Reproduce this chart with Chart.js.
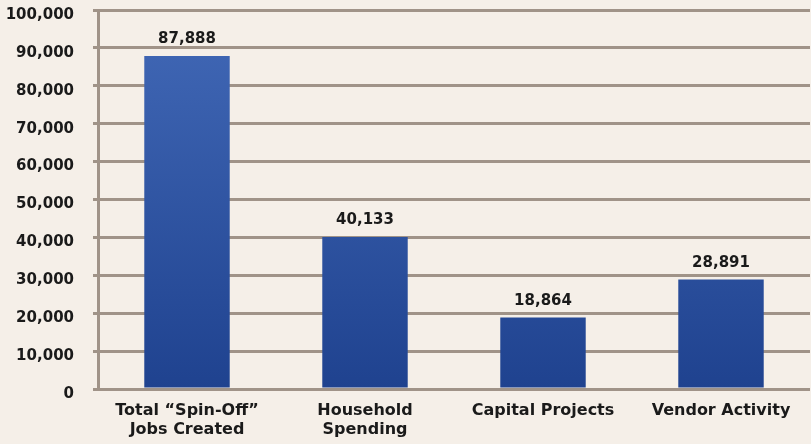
<!DOCTYPE html>
<html>
<head>
<meta charset="utf-8">
<script src="https://cdn.jsdelivr.net/npm/chart.js@4.4.1/dist/chart.umd.min.js"></script>
<style>
  html, body { margin: 0; padding: 0; background: #f5efe8; }
  #wrap { width: 811px; height: 444px; }
</style>
</head>
<body>
<div id="wrap"><canvas id="jobs-chart" width="811" height="444"></canvas></div>
<script>
// data
const categories = [['Total \u201CSpin-Off\u201D', 'Jobs Created'], ['Household', 'Spending'], 'Capital Projects', 'Vendor Activity'];
const jobs = [87888, 40133, 18864, 28891];
const yTicks = [0, 10000, 20000, 30000, 40000, 50000, 60000, 70000, 80000, 90000, 100000];

const fontFam = '"DejaVu Sans", "Liberation Sans", Arial, sans-serif';
const gridColor = '#a09388';

// background + value labels above bars
const extras = {
    id: 'extras',
    beforeDraw(chart) {
        const c = chart.ctx;
        c.save();
        c.fillStyle = '#f5efe8';
        c.fillRect(0, 0, chart.width, chart.height);
        c.restore();
    },
    afterDatasetsDraw(chart) {
        const c = chart.ctx;
        const meta = chart.getDatasetMeta(0);
        c.save();
        c.font = 'bold 15px ' + fontFam;
        c.fillStyle = '#1a1a1a';
        c.textAlign = 'center';
        c.textBaseline = 'bottom';
        meta.data.forEach(function (bar, i) {
            c.fillText(jobs[i].toLocaleString('en-US'), bar.x, bar.y - 9);
        });
        c.restore();
    }
};

function barFill(context) {
    const chart = context.chart;
    const area = chart.chartArea;
    if (!area) return '#2f56a5';
    const g = chart.ctx.createLinearGradient(0, area.top, 0, area.bottom);
    g.addColorStop(0, '#4269b7');
    g.addColorStop(1, '#1f428f');
    return g;
}

const ctx = document.getElementById('jobs-chart');
new Chart(ctx, {
    type: 'bar',
    data: {
        labels: categories,
        datasets: [{
            data: jobs,
            backgroundColor: barFill,
            borderWidth: 0,
            categoryPercentage: 1,
            barPercentage: 0.48
        }]
    },
    options: {
        responsive: false,
        animation: false,
        devicePixelRatio: 1,
        layout: { padding: { top: 10, right: 1, left: 0, bottom: 0 } },
        plugins: {
            legend: { display: false },
            tooltip: { enabled: false }
        },
        scales: {
            x: {
                grid: { display: false, drawTicks: false },
                border: { display: false },
                ticks: {
                    color: '#1a1a1a',
                    font: { family: fontFam, size: 16, weight: 'bold', lineHeight: 1.2 },
                    padding: 12,
                    maxRotation: 0,
                    autoSkip: false
                },
                afterFit(scale) {
                    scale.height = 55;
                    scale.paddingLeft = 0;
                    scale.paddingRight = 0;
                }
            },
            y: {
                min: 0,
                max: 100000,
                afterBuildTicks(scale) {
                    scale.ticks = yTicks.map(function (v) { return { value: v }; });
                },
                grid: {
                    color: gridColor,
                    lineWidth: 3,
                    tickLength: 5,
                    drawTicks: true
                },
                border: { display: true, color: gridColor, width: 3 },
                ticks: {
                    color: '#1a1a1a',
                    font: { family: fontFam, size: 15, weight: 'bold' },
                    padding: 19,
                    labelOffset: 5,
                    callback: function (v) { return v.toLocaleString('en-US'); }
                },
                afterFit(scale) {
                    scale.width = 98;
                    scale.paddingTop = 0;
                    scale.paddingBottom = 0;
                }
            }
        }
    },
    plugins: [extras]
});
</script>
</body>
</html>
